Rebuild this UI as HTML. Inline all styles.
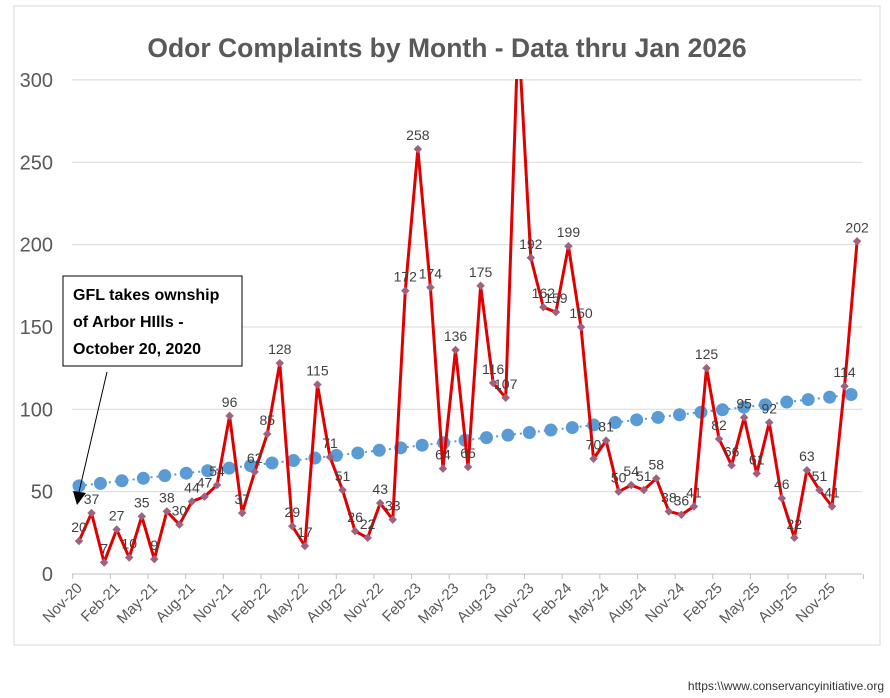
<!DOCTYPE html>
<html><head><meta charset="utf-8"><style>
body{margin:0;background:#fff;}
svg{display:block;font-family:"Liberation Sans",sans-serif;}
</style></head><body>
<svg id="chart" width="890" height="698">
<rect x="14" y="6" width="866" height="639" fill="#fff" stroke="#d9d9d9"/>
<text x="447" y="57" text-anchor="middle" font-size="26.5" font-weight="bold" fill="#595959">Odor Complaints by Month - Data thru Jan 2026</text>
<defs><clipPath id="pc"><rect x="60" y="79" width="820" height="520"/></clipPath></defs>
<g id="grid"></g><g id="xaxis"></g>
<g id="trend"></g>
<g id="series" clip-path="url(#pc)"></g>
<g id="labels"></g>
<rect x="63" y="276" width="179" height="90" fill="#fff" stroke="#000" stroke-width="1"/>
<text font-size="16" font-weight="bold" fill="#000"><tspan x="73" y="300">GFL takes ownship</tspan><tspan x="73" y="327">of Arbor HIlls -</tspan><tspan x="73" y="354">October 20, 2020</tspan></text>
<line x1="107" y1="372" x2="79" y2="492" stroke="#000" stroke-width="1"/>
<polygon points="73,491 86,493 77,505" fill="#000"/>
<text x="884" y="690" text-anchor="end" font-size="12" fill="#333">https:\\www.conservancyinitiative.org</text>
</svg>
<script>
const values=[20,37,7,27,10,35,9,38,30,44,47,54,96,37,62,85,128,29,17,115,71,51,26,22,43,33,172,258,174,64,136,65,175,116,107,330,192,162,159,199,150,70,81,50,54,51,58,38,36,41,125,82,66,95,61,92,46,22,63,51,41,114,202];
const labelsShown=[20,37,7,27,10,35,9,38,30,44,47,54,96,37,62,85,128,29,17,115,71,51,26,22,43,33,172,258,174,64,136,65,175,116,107,null,192,162,159,199,150,70,81,50,54,51,58,38,36,41,125,82,66,95,61,92,46,22,63,51,41,114,202];
const trend=[53.5,55,56.6,58.1,59.7,61.2,62.7,64.3,65.8,67.4,68.9,70.4,72,73.5,75.1,76.6,78.2,79.7,81.2,82.8,84.3,85.9,87.4,88.9,90.5,92,93.6,95.1,96.7,98.2,99.7,101.3,102.8,104.4,105.9,107.4,109];
const xLabels=["Nov-20","Feb-21","May-21","Aug-21","Nov-21","Feb-22","May-22","Aug-22","Nov-22","Feb-23","May-23","Aug-23","Nov-23","Feb-24","May-24","Aug-24","Nov-24","Feb-25","May-25","Aug-25","Nov-25"];
const yTicks=[0,50,100,150,200,250,300];
const NS="http://www.w3.org/2000/svg";
const x0=79,step=12.55,y0=574,ys=1.647;
const X=i=>x0+i*step, Y=v=>y0-v*ys;
function mk(tag,attrs,parent,txt){const e=document.createElementNS(NS,tag);for(const k in attrs)e.setAttribute(k,attrs[k]);if(txt!=null)e.textContent=txt;parent.appendChild(e);return e;}
const grid=document.getElementById('grid'),xa=document.getElementById('xaxis');
yTicks.forEach(t=>{
  if(t>0){const l=mk('line',{x1:72,x2:862,y1:Y(t),y2:Y(t),stroke:'#d9d9d9'},grid);
  
  }
  const tx=mk('text',{x:53,y:Y(t)+7,'text-anchor':'end','font-size':20,fill:'#595959'},grid,t);
  
  
});
const ax=mk('line',{x1:72,x2:862,y1:y0,y2:y0,stroke:'#bfbfbf'},xa);


for(let k=0;k<=21;k++){const tx=x0-step/2+k*3*step;const l=mk('line',{x1:tx,x2:tx,y1:y0,y2:y0+5,stroke:'#bfbfbf'},xa);

}
xLabels.forEach((s,k)=>{const px=X(k*3)+4,py=y0+15;
  const t=mk('text',{x:px,y:py,'text-anchor':'end','font-size':15,fill:'#595959',transform:`rotate(-45 ${px} ${py})`},xa,s);
  
  
});
const tg=document.getElementById('trend');
const tstep=(X(values.length-1)-6-x0)/(trend.length-1);
const tpts=trend.map((v,i)=>[x0+i*tstep,Y(v)]);
const tl=mk('polyline',{points:tpts.map(p=>p.join(',')).join(' '),fill:'none',stroke:'#5b9bd5','stroke-width':2,'stroke-dasharray':'2,4'},tg);


tpts.forEach(p=>{const c=mk('circle',{cx:p[0],cy:p[1],r:6.5,fill:'#5b9bd5'},tg);

});
const sg=document.getElementById('series');
const pts=values.map((v,i)=>[X(i),Y(v)]);
const pl=mk('polyline',{points:pts.map(p=>p.join(',')).join(' '),fill:'none',stroke:'#e00000','stroke-width':3,'stroke-linejoin':'round'},sg);


pts.forEach(p=>{const d=mk('rect',{x:p[0]-3,y:p[1]-3,width:6,height:6,fill:'#a06080',transform:`rotate(45 ${p[0]} ${p[1]})`},sg);

});
const lg=document.getElementById('labels');
labelsShown.forEach((v,i)=>{if(v==null)return;
  const t=mk('text',{x:X(i),y:Y(values[i])-9,'text-anchor':'middle','font-size':14,fill:'#404040'},lg,v);
  
  
});
</script>
</body></html>
